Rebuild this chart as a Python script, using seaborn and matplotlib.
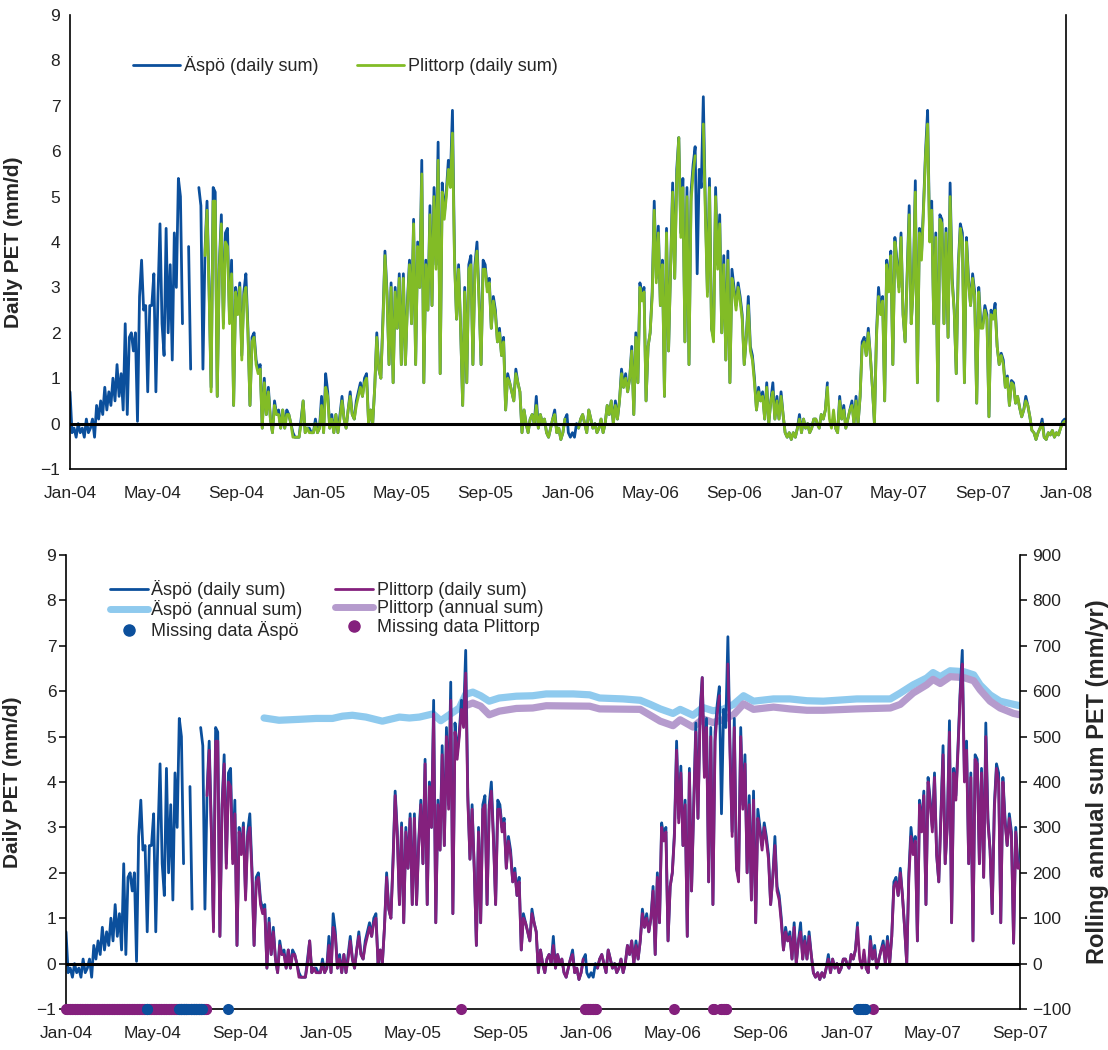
import numpy as np
import pandas as pd
import matplotlib
matplotlib.use("Agg")
import matplotlib.pyplot as plt
import matplotlib.dates as mdates
from matplotlib.lines import Line2D
import seaborn as sns

nan = float("nan")

# Daily potential evapotranspiration (mm/d), one value every third day from 1 January.
# One line per month: Jan 11, Feb 9, Mar 10, Apr 10, May 11, Jun 10, Jul 10, Aug 10,
# Sep 10, Oct 11, Nov 10, Dec 10 values.
aspo_2004 = [
    0.7, -0.2, -0.1, -0.3, 0.0, -0.2, -0.1, -0.3, 0.1, -0.2, -0.1,
    0.1, -0.3, 0.4, 0.1, 0.5, 0.2, 0.8, 0.3, 0.7,
    0.4, 1.0, 0.5, 1.3, 0.6, 1.1, 0.3, 2.2, 0.2, 1.9,
    2.0, 1.6, 2.0, 0.05, 2.8, 3.6, 2.5, 2.6, 0.7, 2.6,
    2.6, 3.3, 0.7, 2.8, 4.4, 2.2, 1.5, 4.3, 2.0, 3.5, 1.4,
    4.2, 3.0, 5.4, 5.0, 2.2, nan, nan, 3.9, 1.2, nan,
    nan, nan, 5.2, 4.8, 1.2, 3.8, 4.9, 3.0, 0.8, 5.2,
    5.1, 0.6, 3.5, 4.6, 2.2, 4.2, 4.3, 2.3, 3.6, 0.4,
    3.0, 2.5, 3.1, 1.5, 2.9, 3.3, 2.1, 0.4, 1.9, 2.0,
    1.4, 1.2, 1.3, -0.1, 1.0, 0.2, 0.8, 0.1, -0.2, 0.5, 0.2,
    0.3, -0.1, 0.3, -0.1, 0.3, 0.2, 0.0, -0.2, -0.3, -0.3,
    -0.3, 0.1, 0.5, -0.2, -0.1, -0.1, -0.2, -0.2, 0.1, -0.2,
]
aspo_2005 = [
    -0.1, 0.6, -0.2, 1.1, 0.7, -0.1, 0.2, -0.2, 0.2, -0.2, 0.2,
    0.6, 0.1, -0.1, 0.3, 0.7, 0.2, 0.1, 0.5, 0.7,
    0.9, 0.6, 1.0, 1.1, 0.0, 0.3, 0.0, 0.8, 2.0, 1.2,
    1.0, 2.3, 3.8, 2.9, 1.3, 3.1, 0.9, 3.0, 2.1, 3.3,
    1.3, 3.3, 1.3, 2.7, 3.6, 2.2, 4.5, 1.3, 4.0, 3.0, 5.8,
    0.9, 3.6, 2.5, 4.8, 2.6, 5.2, 3.5, 6.2, 1.1, 5.3,
    4.6, 5.1, 5.8, 5.4, 6.9, 3.7, 2.3, 3.5, 2.1, 0.4,
    3.0, 0.9, 3.5, 3.7, 1.3, 3.5, 4.0, 2.8, 1.3, 3.6,
    3.5, 3.0, 3.2, 2.1, 2.8, 2.5, 1.8, 2.1, 1.5, 1.9,
    0.3, 1.1, 0.9, 0.7, 0.5, 1.2, 0.9, 0.7, -0.2, 0.3, 0.0,
    -0.2, 0.1, 0.2, 0.0, 0.6, -0.1, 0.2, 0.0, 0.1, -0.2,
    -0.3, -0.1, 0.1, 0.3, -0.2, -0.1, -0.35, -0.2, 0.1, 0.2,
]
aspo_2006 = [
    -0.2, -0.3, -0.2, -0.3, 0.0, -0.1, 0.1, 0.2, 0.0, -0.2, 0.3,
    0.1, -0.1, 0.0, -0.2, -0.1, 0.1, -0.2, 0.0, 0.4,
    0.2, 0.5, 0.0, 0.5, 0.1, 0.5, 1.2, 0.8, 1.1, 0.7,
    1.0, 1.7, 0.2, 2.0, 0.9, 3.1, 2.8, 3.0, 0.5, 1.7,
    2.0, 2.9, 4.9, 3.2, 4.35, 2.6, 3.6, 0.6, 4.3, 1.6, 3.5,
    5.3, 3.2, 5.6, 6.3, 4.2, 5.4, 1.8, 5.2, 1.3, 5.1,
    5.7, 6.1, 3.3, 5.6, 5.2, 7.2, 4.8, 2.9, 5.4, 2.1,
    1.9, 5.2, 3.5, 4.6, 2.0, 3.7, 1.4, 3.8, 0.9, 3.4,
    3.0, 2.6, 3.1, 2.8, 2.4, 1.3, 1.9, 2.8, 1.7, 1.5,
    1.0, 0.3, 0.8, 0.5, 0.7, 0.1, 0.9, 0.0, 0.5, 0.9, 0.1,
    0.6, 0.1, 0.7, 0.2, -0.2, -0.3, -0.2, -0.35, -0.2, -0.3,
    -0.1, 0.2, -0.2, 0.1, -0.1, 0.0, -0.2, -0.1, 0.1, 0.1,
]
aspo_2007 = [
    0.0, -0.1, 0.2, 0.1, 0.3, 0.9, nan, nan, nan, -0.1, -0.2,
    0.6, 0.1, 0.4, -0.1, 0.1, 0.3, 0.5, 0.0, 0.6,
    0.0, 0.6, 1.8, 1.9, 1.5, 2.1, 1.5, 0.8, 0.0, 2.0,
    3.0, 2.5, 2.8, 0.5, 3.6, 3.0, 3.8, 1.3, 4.1, 3.6,
    3.0, 4.2, 2.4, 1.8, 3.3, 4.8, 2.2, 3.1, 5.35, 0.9, 4.3,
    3.7, 4.8, 6.0, 6.9, 4.1, 4.9, 2.2, 4.2, 0.5, 4.6,
    4.5, 2.2, 4.3, 1.9, 5.3, 3.2, 2.5, 1.1, 3.5, 4.4,
    4.2, 0.9, 4.1, 3.2, 2.6, 3.3, 2.9, 0.45, 3.0, 2.2,
    2.2, 2.6, 2.4, 0.15, 2.5, 2.35, 2.65, 1.7, 1.3, 1.55,
    1.4, 0.8, 1.05, 0.4, 0.95, 0.9, 0.45, 0.6, 0.35, 0.15, 0.3,
    0.6, 0.4, 0.15, -0.15, -0.2, -0.35, -0.2, -0.1, 0.1, -0.3,
    -0.35, -0.2, -0.25, -0.15, -0.3, -0.2, -0.25, -0.1, 0.05, 0.1,
]

# Plittorp has no record before mid-July 2004
plittorp_2004 = [nan] * 66 + [
    3.7, 4.7, 2.9, 0.7, 4.9,
    4.9, 0.6, 3.4, 4.4, 2.1, 4.0, 3.9, 2.2, 3.3, 0.4,
    2.9, 2.4, 3.0, 1.4, 2.8, 3.0, 2.0, 0.4, 1.8, 1.9,
    1.3, 1.1, 1.2, -0.1, 0.9, 0.2, 0.7, 0.1, -0.2, 0.4, 0.2,
    0.2, -0.1, 0.3, -0.1, 0.2, 0.2, 0.0, -0.3, -0.3, -0.3,
    -0.3, 0.0, 0.5, -0.2, -0.1, -0.2, -0.2, -0.2, 0.0, -0.2,
]
plittorp_2005 = [
    -0.1, 0.4, -0.2, 0.8, 0.6, -0.1, 0.1, -0.2, 0.2, -0.2, 0.1,
    0.5, 0.1, -0.1, 0.3, 0.6, 0.2, 0.1, 0.4, 0.6,
    0.8, 0.6, 0.9, 1.0, 0.0, 0.3, 0.0, 0.8, 1.9, 1.2,
    1.0, 2.2, 3.7, 2.8, 1.3, 3.0, 0.9, 2.9, 2.1, 3.2,
    1.3, 3.2, 1.3, 2.6, 3.5, 2.2, 4.4, 1.3, 3.9, 3.0, 5.5,
    0.9, 3.5, 2.5, 4.6, 2.6, 5.0, 3.4, 5.8, 1.1, 5.1,
    4.5, 5.0, 5.6, 5.2, 6.4, 3.6, 2.3, 3.4, 2.1, 0.4,
    2.9, 0.9, 3.4, 3.5, 1.3, 3.4, 3.8, 2.7, 1.3, 3.4,
    3.4, 2.9, 3.1, 2.1, 2.7, 2.4, 1.8, 2.0, 1.5, 1.8,
    0.3, 1.0, 0.9, 0.7, 0.5, 1.1, 0.9, 0.7, -0.2, 0.3, 0.0,
    -0.2, 0.1, 0.2, 0.0, 0.4, -0.1, 0.2, 0.0, 0.1, -0.2,
    -0.3, -0.1, 0.1, 0.2, -0.2, -0.1, -0.35, -0.2, 0.1, nan,
]
plittorp_2006 = [
    nan, nan, nan, nan, nan, -0.1, 0.1, 0.2, 0.0, -0.2, 0.3,
    0.1, -0.1, 0.0, -0.2, -0.1, 0.1, -0.2, 0.0, 0.4,
    0.2, 0.5, 0.0, 0.4, 0.1, 0.5, 1.1, 0.8, 1.0, 0.7,
    1.0, 1.6, 0.2, 1.9, 0.9, 3.0, 2.7, 2.9, 0.5, 1.7,
    2.0, 2.8, 4.7, 3.1, 4.2, 2.6, 3.5, 0.6, 4.2, 1.6, 3.4,
    5.1, 3.2, 5.4, 6.3, 4.1, 5.2, 1.8, 5.0, 1.3, 4.9,
    5.5, 5.9, nan, nan, nan, 6.6, 4.6, 2.8, 5.2, 2.1,
    1.8, 5.0, 3.4, 4.4, 2.0, 3.5, 1.4, 3.6, 0.9, 3.2,
    2.9, 2.5, 3.0, 2.7, 2.3, 1.3, 1.9, 2.6, 1.6, 1.4,
    0.9, 0.3, 0.7, 0.5, 0.6, 0.1, 0.8, 0.0, 0.5, 0.7, 0.1,
    0.5, 0.1, 0.6, 0.2, -0.2, -0.3, -0.2, -0.35, -0.2, -0.3,
    -0.1, 0.1, -0.2, 0.1, -0.1, 0.0, -0.2, -0.1, 0.1, 0.1,
]
plittorp_2007 = [
    0.0, -0.1, 0.2, 0.1, 0.3, 0.8, 0.1, -0.1, 0.3, -0.1, -0.2,
    0.5, 0.1, 0.3, -0.1, 0.1, 0.3, 0.4, 0.0, 0.5,
    0.0, 0.6, 1.7, 1.8, 1.5, 2.0, 1.5, 0.8, 0.0, 1.9,
    2.8, 2.4, 2.7, 0.5, 3.5, 2.9, 3.7, 1.3, 4.0, 3.5,
    2.9, 4.1, 2.4, 1.8, 3.2, 4.6, 2.2, 3.0, 5.1, 0.9, 4.2,
    3.6, 4.7, 5.9, 6.6, 4.0, 4.7, 2.2, 4.1, 0.5, 4.5,
    4.4, 2.2, 4.2, 1.9, 5.0, 3.1, 2.5, 1.1, 3.4, 4.3,
    4.0, 0.9, 4.0, 3.1, 2.6, 3.2, 2.8, 0.45, 2.9, 2.1,
    2.1, 2.5, 2.3, 0.15, 2.4, 2.3, 2.5, 1.7, 1.3, 1.5,
    1.3, 0.8, 1.0, 0.4, 0.9, 0.85, 0.45, 0.6, 0.35, 0.15, 0.3,
    0.5, 0.4, 0.15, -0.15, -0.2, -0.35, -0.2, -0.1, 0.0, -0.3,
    -0.35, -0.2, -0.25, -0.15, -0.3, -0.2, -0.25, -0.1, 0.0, 0.05,
]

# Rolling annual sums (mm/yr)
aspo_annual_dates = [
    "2004-10-05", "2004-10-26", "2004-11-23", "2004-12-17", "2005-01-09",
    "2005-01-23", "2005-02-06", "2005-02-25", "2005-03-20", "2005-04-13",
    "2005-04-27", "2005-05-11", "2005-05-30", "2005-06-10", "2005-06-22",
    "2005-07-06", "2005-07-15", "2005-07-25", "2005-08-05", "2005-08-17",
    "2005-08-31", "2005-09-24", "2005-10-17", "2005-11-05", "2005-12-13",
    "2006-01-05", "2006-01-19", "2006-02-21", "2006-03-17", "2006-03-31",
    "2006-04-14", "2006-05-02", "2006-05-12", "2006-05-30", "2006-06-13",
    "2006-06-27", "2006-07-11", "2006-07-26", "2006-08-09", "2006-08-23",
    "2006-09-20", "2006-10-13", "2006-11-06", "2006-11-29", "2007-01-15",
    "2007-03-03", "2007-03-17", "2007-04-04", "2007-04-23", "2007-05-02",
    "2007-05-12", "2007-05-26", "2007-06-14", "2007-06-28", "2007-07-07",
    "2007-07-21", "2007-08-04", "2007-08-23", "2007-09-01",
]
aspo_annual = [
    541, 536, 538, 540, 540, 545, 547, 543, 534, 543,
    541, 543, 550, 535, 548, 563, 593, 598, 590, 578,
    585, 589, 590, 594, 594, 592, 585, 583, 580, 571,
    561, 551, 560, 547, 564, 557, 560, 571, 590, 578,
    583, 583, 579, 578, 583, 583, 596, 614, 629, 641,
    632, 645, 643, 636, 614, 592, 578, 571, 568,
]
plittorp_annual_dates = [
    "2005-07-13", "2005-07-25", "2005-08-05", "2005-08-17", "2005-08-31",
    "2005-09-24", "2005-10-17", "2005-11-05", "2006-01-05", "2006-01-19",
    "2006-03-17", "2006-03-31", "2006-04-14", "2006-05-02", "2006-05-12",
    "2006-05-30", "2006-06-13", "2006-06-27", "2006-07-11", "2006-07-26",
    "2006-08-09", "2006-08-23", "2006-09-20", "2006-10-13", "2006-11-06",
    "2006-11-29", "2007-01-15", "2007-03-03", "2007-03-17", "2007-04-04",
    "2007-04-23", "2007-05-02", "2007-05-12", "2007-05-26", "2007-06-14",
    "2007-06-28", "2007-07-07", "2007-07-21", "2007-08-04", "2007-08-23",
    "2007-09-01",
]
plittorp_annual = [
    567, 574, 567, 548, 556, 562, 563, 568, 567, 561,
    560, 547, 534, 524, 537, 521, 539, 531, 537, 548,
    572, 560, 565, 561, 558, 558, 561, 563, 571, 596,
    614, 626, 617, 632, 630, 623, 603, 578, 563, 551,
    548,
]

# Days without data (start, end)
aspo_missing = [
    ("2004-04-23", "2004-04-24"), ("2004-06-08", "2004-06-20"),
    ("2004-06-24", "2004-07-10"), ("2004-08-15", "2004-08-15"),
    ("2007-01-16", "2007-01-27"),
]
plittorp_missing = [
    ("2004-01-01", "2004-07-16"), ("2005-07-09", "2005-07-09"),
    ("2005-12-29", "2006-01-14"), ("2006-05-04", "2006-05-04"),
    ("2006-06-27", "2006-06-28"), ("2006-07-08", "2006-07-16"),
    ("2007-02-06", "2007-02-06"),
]

BLUE = "#0B4F9C"
GREEN = "#82BC26"
PURPLE = "#84207D"
LIGHT_BLUE = "#8FCAEE"
LIGHT_PURPLE = "#B59BCD"

sns.set_style("white")
plt.rcParams["font.family"] = ["Liberation Sans", "DejaVu Sans"]
plt.rcParams["axes.unicode_minus"] = True


def station_frame(year_lists):
    parts = []
    for year, values in year_lists:
        dates = pd.date_range(f"{year}-01-01", periods=len(values), freq="3D")
        parts.append(pd.DataFrame({"date": dates, "pet": values}))
    df = pd.concat(parts, ignore_index=True)
    df["seg"] = df["pet"].isna().cumsum()
    return df.dropna(subset=["pet"])


def missing_days(ranges):
    return pd.DatetimeIndex(np.concatenate(
        [pd.date_range(a, b, freq="D").values for a, b in ranges]))


aspo = station_frame([(2004, aspo_2004), (2005, aspo_2005),
                      (2006, aspo_2006), (2007, aspo_2007)])
plittorp = station_frame([(2004, plittorp_2004), (2005, plittorp_2005),
                          (2006, plittorp_2006), (2007, plittorp_2007)])
aspo_ann = pd.DataFrame({"date": pd.to_datetime(aspo_annual_dates), "sum": aspo_annual})
plit_ann = pd.DataFrame({"date": pd.to_datetime(plittorp_annual_dates), "sum": plittorp_annual})

fig = plt.figure(figsize=(11.08, 10.5), dpi=100)
ax_top = fig.add_axes([70 / 1108, 1 - 469 / 1050, 996 / 1108, 454 / 1050])
ax_bot = fig.add_axes([66 / 1108, 1 - 1009 / 1050, 954 / 1108, 454 / 1050])
ax_sum = ax_bot.twinx()

TICK_FS = 12.5
LABEL_FS = 15
LEG_FS = 13
DAILY_LW = 2.0


def style_date_axis(ax, start, end):
    ax.set_xlim(pd.Timestamp(start), pd.Timestamp(end))
    ax.xaxis.set_major_locator(mdates.MonthLocator(bymonth=[1, 5, 9]))
    ax.xaxis.set_major_formatter(mdates.DateFormatter("%b-%y"))
    ax.set_ylim(-1, 9)
    ax.set_yticks(range(-1, 10))
    ax.tick_params(axis="both", direction="out", length=5, width=1.1,
                   colors="black", labelsize=TICK_FS, labelcolor="#222222")
    ax.tick_params(axis="x", pad=7)
    ax.tick_params(axis="y", pad=2)
    ax.set_xlabel("")
    ax.set_ylabel("Daily PET (mm/d)", fontsize=LABEL_FS, fontweight="bold")
    for side in ["left", "bottom", "right"]:
        ax.spines[side].set_color("black")
        ax.spines[side].set_linewidth(1.2)
    ax.spines["top"].set_visible(False)


# ---- upper panel: Äspö and Plittorp daily sums ----
sns.lineplot(data=aspo, x="date", y="pet", units="seg", estimator=None,
             color=BLUE, lw=DAILY_LW, ax=ax_top, legend=False)
sns.lineplot(data=plittorp, x="date", y="pet", units="seg", estimator=None,
             color=GREEN, lw=DAILY_LW, ax=ax_top, legend=False)
ax_top.axhline(0, color="black", lw=2.2, zorder=5)
style_date_axis(ax_top, "2004-01-01", "2008-01-01")
ax_top.yaxis.set_label_coords(-0.047, 0.5)
ax_top.legend(
    handles=[Line2D([], [], color=BLUE, lw=2), Line2D([], [], color=GREEN, lw=2)],
    labels=["Äspö (daily sum)", "Plittorp (daily sum)"],
    ncol=2, frameon=False, fontsize=LEG_FS, loc="center left",
    bbox_to_anchor=(0.063, 0.888), borderaxespad=0, borderpad=0,
    handlelength=2.6, handletextpad=0.25, columnspacing=2.1,
)

# ---- lower panel: daily sums, rolling annual sums and gaps ----
sns.lineplot(data=aspo_ann, x="date", y="sum", color=LIGHT_BLUE, lw=5.2,
             ax=ax_sum, legend=False)
sns.lineplot(data=plit_ann, x="date", y="sum", color=LIGHT_PURPLE, lw=5.2,
             ax=ax_sum, legend=False)
sns.lineplot(data=aspo, x="date", y="pet", units="seg", estimator=None,
             color=BLUE, lw=DAILY_LW, ax=ax_bot, legend=False)
sns.lineplot(data=plittorp, x="date", y="pet", units="seg", estimator=None,
             color=PURPLE, lw=DAILY_LW, ax=ax_bot, legend=False)
ax_bot.axhline(0, color="black", lw=2.2, zorder=5)

plit_gap = missing_days(plittorp_missing)
aspo_gap = missing_days(aspo_missing)
sns.scatterplot(x=plit_gap, y=np.full(len(plit_gap), -1.0), color=PURPLE, s=64,
                linewidth=0, ax=ax_bot, clip_on=False, zorder=6, legend=False)
sns.scatterplot(x=aspo_gap, y=np.full(len(aspo_gap), -1.0), color=BLUE, s=64,
                linewidth=0, ax=ax_bot, clip_on=False, zorder=7, legend=False)

style_date_axis(ax_bot, "2004-01-01", "2007-09-01")
ax_bot.spines["right"].set_visible(False)
ax_bot.yaxis.set_label_coords(-0.046, 0.5)

ax_sum.set_ylim(-100, 900)
ax_sum.set_yticks(range(-100, 901, 100))
ax_sum.tick_params(axis="y", direction="out", length=5, width=1.1, colors="black",
                   labelsize=TICK_FS, labelcolor="#222222", pad=4)
ax_sum.set_ylabel("Rolling annual sum PET (mm/yr)", fontsize=17,
                  fontweight="bold", rotation=90)
ax_sum.yaxis.set_label_coords(1.069, 0.5)
ax_sum.set_xlabel("")
for side in ["left", "bottom", "top"]:
    ax_sum.spines[side].set_visible(False)
ax_sum.spines["right"].set_color("black")
ax_sum.spines["right"].set_linewidth(1.2)

# daily lines above the annual sums
ax_bot.set_zorder(ax_sum.get_zorder() + 1)
ax_bot.patch.set_visible(False)

ax_bot.legend(
    handles=[
        Line2D([], [], color=BLUE, lw=2),
        Line2D([], [], color=LIGHT_BLUE, lw=5),
        Line2D([], [], color=BLUE, lw=0, marker="o", markersize=8),
        Line2D([], [], color=PURPLE, lw=2),
        Line2D([], [], color=LIGHT_PURPLE, lw=5),
        Line2D([], [], color=PURPLE, lw=0, marker="o", markersize=8),
    ],
    labels=["Äspö (daily sum)", "Äspö (annual sum)", "Missing data Äspö",
            "Plittorp (daily sum)", "Plittorp (annual sum)", "Missing data Plittorp"],
    ncol=2, frameon=False, fontsize=LEG_FS, loc="center left",
    bbox_to_anchor=(0.046, 0.879), borderaxespad=0, borderpad=0,
    handlelength=2.1, handletextpad=0.2, columnspacing=1.8, labelspacing=0.08,
)

fig.savefig("out.png", dpi=100)
